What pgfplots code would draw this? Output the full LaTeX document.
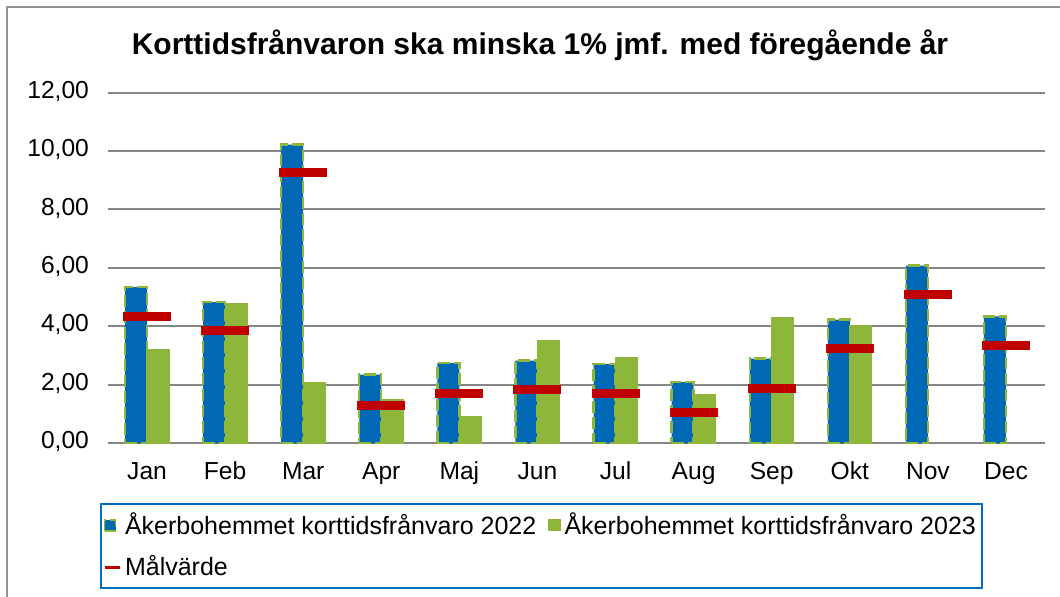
\documentclass[border=0pt]{standalone}
\usepackage{pgfplots}
\pgfplotsset{compat=1.18}
\usepackage{fontspec}
\setmainfont{Liberation Sans}
\definecolor{barblue}{RGB}{0,104,180}
\definecolor{bargreen}{RGB}{142,182,58}
\definecolor{tgtred}{RGB}{192,0,0}
\definecolor{gridgray}{RGB}{134,134,134}
\definecolor{legblue}{RGB}{0,112,192}
\begin{document}
\begin{tikzpicture}
\useasboundingbox (0,0) rectangle (530pt,298.5pt);
\draw[gridgray!90, line width=1.2pt] (3.5pt,-20pt) rectangle (560pt,295pt);
\node[font=\bfseries\fontsize{15}{18}\selectfont] at (270pt,276pt) {Korttidsfrånvaron ska minska 1\% jmf. med föregående år};
\begin{axis}[
  at={(54pt,76.85pt)}, anchor=south west,
  scale only axis, width=468.5pt, height=175.35pt,
  xmin=-0.5, xmax=11.5, ymin=0, ymax=12,
  ytick={0,2,...,12},
  xtick={0,...,11},
  xticklabels={Jan,Feb,Mar,Apr,Maj,Jun,Jul,Aug,Sep,Okt,Nov,Dec},
  ymajorgrids, major grid style={gridgray, line width=1pt},
  axis lines*=left, axis line style={draw=none},
  major tick length=0pt,
  ticklabel style={font=\fontsize{12.3}{14}\selectfont},
  typeset ticklabels with strut,
  /pgf/number format/fixed, /pgf/number format/fixed zerofill,
  /pgf/number format/precision=2, /pgf/number format/use comma,
  /pgf/number format/assume math mode=true,
  yticklabel style={xshift=-6pt},
  xticklabel style={yshift=-5pt},
  legend style={at={(-0.0085,-0.170)}, anchor=north west, draw=legblue, line width=1pt,
    font=\fontsize{12.5}{14}\selectfont, legend columns=2,
    /tikz/every even column/.append style={column sep=4pt}, row sep=5pt,
    inner xsep=1pt, inner ysep=2.5pt},
  legend cell align=left,
]
\addplot[ybar, bar width=11pt, bar shift=-5.5pt, fill=barblue, draw=bargreen, line width=1.2pt,
  dash pattern=on 6pt off 2pt,
  legend image code/.code={\draw[fill=barblue, draw=bargreen, line width=0.8pt] (0pt,-2.75pt) rectangle (5.5pt,2.75pt);}]
  coordinates {(0,5.34) (1,4.83) (2,10.22) (3,2.35) (4,2.75) (5,2.83) (6,2.71) (7,2.09) (8,2.90) (9,4.23) (10,6.08) (11,4.34)};
\addlegendentry{Åkerbohemmet korttidsfrånvaro 2022}
\addplot[ybar, bar width=11pt, bar shift=5.5pt, fill=bargreen, draw=bargreen, line width=0.6pt,
  legend image code/.code={\draw[fill=bargreen, draw=bargreen, line width=0.6pt] (0pt,-2.75pt) rectangle (5.5pt,2.75pt);}]
  coordinates {(0,3.22) (1,4.78) (2,2.07) (3,1.50) (4,0.93) (5,3.50) (6,2.92) (7,1.68) (8,4.29) (9,4.04)};
\addlegendentry{Åkerbohemmet korttidsfrånvaro 2023}
\addplot[only marks, mark=-, mark size=12pt, mark options={line width=4.5pt, draw=tgtred},
  legend image code/.code={\draw[tgtred, line width=1.5pt] (0pt,0pt) -- (7.5pt,0pt);}]
  coordinates {(0,4.34) (1,3.87) (2,9.25) (3,1.31) (4,1.72) (5,1.84) (6,1.72) (7,1.06) (8,1.88) (9,3.24) (10,5.09) (11,3.36)};
\addlegendentry{Målvärde}
\end{axis}
\end{tikzpicture}
\end{document}
